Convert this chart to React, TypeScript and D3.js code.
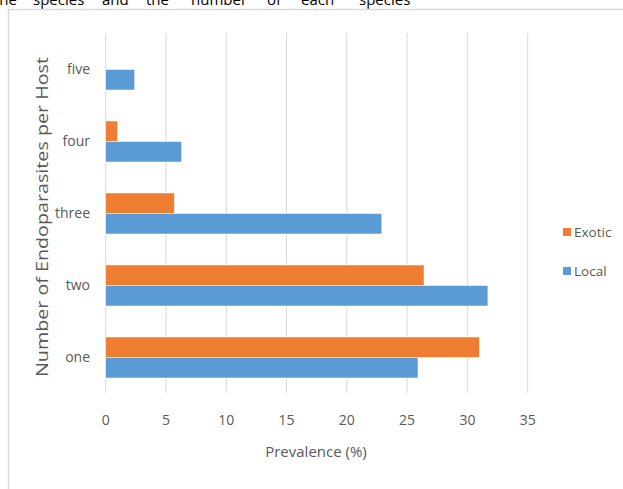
import React from "react";
import * as d3 from "d3";

const categories = ["five", "four", "three", "two", "one"];
const seriesNames = ["Exotic", "Local"];
const exoticValues = [0, 1.0, 5.7, 26.4, 31.0];
const localValues = [2.4, 6.3, 22.9, 31.7, 25.9];
const xTicks = [0, 5, 10, 15, 20, 25, 30, 35];
const headerWords = [
  { w: "The", x: 17, anchor: "end" },
  { w: "species", x: 33, anchor: "start" },
  { w: "and", x: 102, anchor: "start" },
  { w: "the", x: 146, anchor: "start" },
  { w: "number", x: 191, anchor: "start" },
  { w: "of", x: 267, anchor: "start" },
  { w: "each", x: 301, anchor: "start" },
  { w: "species", x: 359, anchor: "start" },
];

const colors: Record<string, string> = { Exotic: "#ED7D31", Local: "#5B9BD5" };
const FONT = "'Open Sans', sans-serif";
const TEXT = "#595959";

export default function App() {
  const W = 623, H = 489;
  const x = d3.scaleLinear().domain([0, 35]).range([105.7, 527.7]);
  const p = 31 / 72;
  const y = d3.scaleBand().domain(categories).range([33.5, 393.5]).paddingInner(p).paddingOuter(p / 2);
  const sub = d3.scaleBand().domain(seriesNames).range([0, y.bandwidth()]);
  const vals: Record<string, number[]> = { Exotic: exoticValues, Local: localValues };

  return (
    <svg width={W} height={H} style={{ position: "absolute", left: 0, top: 0, background: "#fff" }}>
      <rect x={0} y={0} width={W} height={H} fill="#fff" />
      {headerWords.map((h, i) => (
        <text key={i} x={h.x} y={5} fontFamily={FONT} fontSize={15} fill="#000" textAnchor={h.anchor as any}>
          {h.w}
        </text>
      ))}
      <path d={`M8.5,${H} V9.5 H${W}`} fill="none" stroke="#d9d9d9" strokeWidth={1.5} />
      {xTicks.map((t) => (
        <line key={t} x1={x(t)} x2={x(t)} y1={33} y2={393} stroke="#d9d9d9" strokeWidth={1} />
      ))}
      {categories.map((c, i) =>
        seriesNames.map((s) => {
          const v = vals[s][i];
          if (!v) return null;
          return (
            <rect
              key={c + s}
              x={x(0)}
              y={(y(c) as number) + (sub(s) as number)}
              width={x(v) - x(0)}
              height={sub.bandwidth()}
              fill={colors[s]}
              stroke="#fff"
              strokeWidth={0.5}
            />
          );
        })
      )}
      {xTicks.map((t) => (
        <text key={t} x={x(t)} y={425} textAnchor="middle" fontFamily={FONT} fontSize={14} fill={TEXT}>
          {t}
        </text>
      ))}
      {categories.map((c) => (
        <text
          key={c}
          x={90}
          y={(y(c) as number) + y.bandwidth() / 2}
          dy="0.35em"
          textAnchor="end"
          fontFamily={FONT}
          fontSize={14}
          fill={TEXT}
        >
          {c}
        </text>
      ))}
      <text x={316} y={452} dy="0.35em" textAnchor="middle" fontFamily={FONT} fontSize={15} fill={TEXT}>
        Prevalence (%)
      </text>
      <text
        transform="translate(42,217) rotate(-90)"
        textAnchor="middle"
        dy="0.35em"
        fontFamily={FONT}
        fontSize={16}
        fill={TEXT}
        textLength={320}
        lengthAdjust="spacingAndGlyphs"
      >
        Number of Endoparasites per Host
      </text>
      {seriesNames.map((s, i) => (
        <g key={s} transform={`translate(563,${228 + i * 39})`}>
          <rect x={0} y={0} width={8} height={8} fill={colors[s]} />
          <text x={11} y={4} dy="0.35em" fontFamily={FONT} fontSize={13.5} fill={TEXT}>
            {s}
          </text>
        </g>
      ))}
    </svg>
  );
}
